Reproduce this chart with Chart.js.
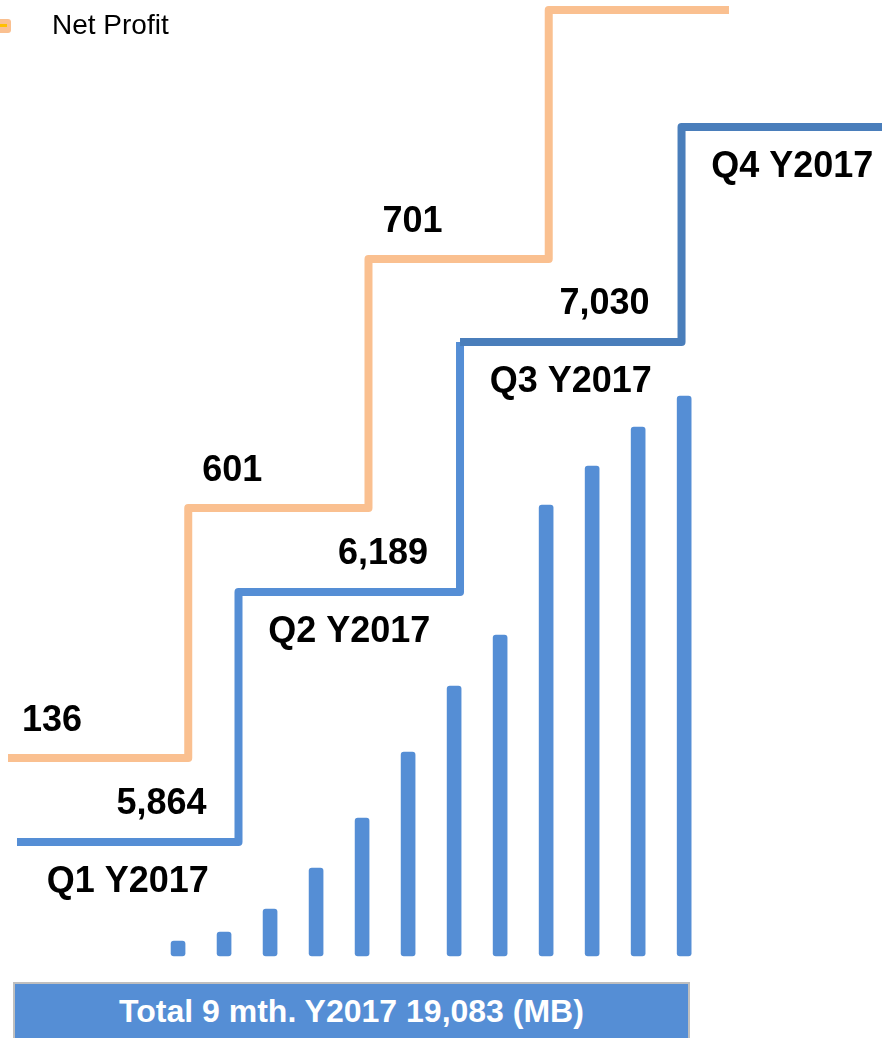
<!DOCTYPE html>
<html>
<head>
<meta charset="utf-8">
<script src="https://cdn.jsdelivr.net/npm/chart.js@4.4.0/dist/chart.umd.min.js"></script>
<style>
  html, body { margin: 0; padding: 0; background: #fff; overflow: hidden; }
  #wrap { position: relative; width: 882px; height: 1038px; }
  #stairChart { position: absolute; left: 0; top: 0; }
  .total-box {
    position: absolute;
    left: 13px;
    top: 982px;
    width: 677px;
    height: 70px;
    background: #558ed5;
    border: 2px solid #bfbfbf;
    border-bottom: none;
    color: #fff;
    font: bold 32px "Liberation Sans", Arial, sans-serif;
    line-height: 40px;
    padding-top: 7px;
    box-sizing: border-box;
    text-align: center;
  }
</style>
</head>
<body>
<div id="wrap">
  <canvas id="stairChart" width="882" height="982"></canvas>
  <div class="total-box">Total 9 mth. Y2017 19,083 (MB)</div>
</div>
<script>
// monthly bars (relative heights, no axis in the original)
const months = [1, 2, 3, 4, 5, 6, 7, 8, 9, 10, 11, 12];
const barValues = [15, 24, 47, 88, 138, 204, 270, 321, 451, 490, 529, 560];

// quarterly staircase
const quarters = ['Q1 Y2017', 'Q2 Y2017', 'Q3 Y2017', 'Q4 Y2017'];
const revenue = [5864, 6189, 7030];
const netProfit = [136, 601, 701];
const revenueStep = [0, 250, 500, 715];
const profitStep = [0, 250, 499, 748];

const LABEL_FONT = 'bold 36px "Liberation Sans", Arial, sans-serif';
const ORANGE = '#fac090';
const BLUE = '#558ed5';
const BLUE_DARK = '#4a7ebb';

function stairPoints(steps) {
  const pts = steps.map((v, i) => ({ x: i, y: v }));
  pts.push({ x: steps.length, y: steps[steps.length - 1] });
  return pts;
}

function fmt(n) {
  return n.toLocaleString('en-US');
}

const stairLabels = {
  id: 'stairLabels',
  afterDatasetsDraw(chart) {
    const ctx = chart.ctx;
    const s = chart.scales;
    ctx.save();
    ctx.fillStyle = '#000';
    ctx.font = LABEL_FONT;
    ctx.textBaseline = 'alphabetic';

    // net profit values, left side of each step
    ctx.textAlign = 'left';
    netProfit.forEach((v, i) => {
      const x = s.xNP.getPixelForValue(i) + 14;
      const y = s.yNP.getPixelForValue(profitStep[i]) - 27;
      ctx.fillText(fmt(v), x, y);
    });

    // revenue values, right side of each step
    ctx.textAlign = 'right';
    revenue.forEach((v, i) => {
      const x = s.xRev.getPixelForValue(i + 1) - 32;
      const y = s.yRev.getPixelForValue(revenueStep[i]) - 28;
      ctx.fillText(fmt(v), x, y);
    });

    // quarter names under the blue steps
    ctx.textAlign = 'center';
    quarters.forEach((q, i) => {
      const x = s.xRev.getPixelForValue(i + 0.5);
      const y = s.yRev.getPixelForValue(revenueStep[i]) + 50;
      ctx.fillText(q, x, y);
    });

    // legend, cut at the left edge like the original
    ctx.fillStyle = ORANGE;
    ctx.beginPath();
    ctx.roundRect(-5, 19, 16, 14, 3);
    ctx.fill();
    ctx.fillStyle = '#ffc000';
    ctx.fillRect(0, 24, 7, 3);
    ctx.fillStyle = '#000';
    ctx.textAlign = 'left';
    ctx.font = '28px "Liberation Sans", Arial, sans-serif';
    ctx.fillText('Net Profit', 52, 34);
    ctx.restore();
  }
};

function buildChart() {
  const canvas = document.getElementById('stairChart');
  new Chart(canvas, {
    data: {
      datasets: [
        {
          type: 'line',
          label: 'Net Profit',
          data: stairPoints(profitStep),
          xAxisID: 'xNP',
          yAxisID: 'yNP',
          stepped: true,
          borderColor: ORANGE,
          borderWidth: 8,
          borderJoinStyle: 'round',
          pointRadius: 0,
          fill: false
        },
        {
          type: 'line',
          label: 'Revenue',
          data: stairPoints(revenueStep),
          xAxisID: 'xRev',
          yAxisID: 'yRev',
          stepped: true,
          borderColor: BLUE,
          borderWidth: 8,
          borderJoinStyle: 'round',
          pointRadius: 0,
          fill: false,
          segment: {
            borderColor: c => (c.p0DataIndex >= 2 ? BLUE_DARK : BLUE)
          }
        },
        {
          type: 'bar',
          label: 'Monthly',
          data: months.map((m, i) => ({ x: m, y: barValues[i] })),
          xAxisID: 'x',
          yAxisID: 'y',
          backgroundColor: BLUE,
          barThickness: 14,
          grouped: false,
          borderRadius: 3,
          borderSkipped: false
        }
      ]
    },
    options: {
      responsive: false,
      animation: false,
      layout: { padding: 0 },
      plugins: {
        legend: { display: false },
        tooltip: { enabled: false }
      },
      scales: {
        x: { type: 'linear', offset: false, min: -2.87, max: 16.3, display: false },
        y: { type: 'linear', min: -26, max: 956, display: false },
        xRev: { type: 'linear', offset: false, min: -0.0767, max: 3.905, display: false },
        yRev: { type: 'linear', min: -140, max: 842, display: false },
        xNP: { type: 'linear', offset: false, min: -0.0444, max: 4.849, display: false },
        yNP: { type: 'linear', min: -224, max: 758, display: false }
      }
    },
    plugins: [stairLabels]
  });
}

window.addEventListener('DOMContentLoaded', buildChart);
</script>
</body>
</html>
